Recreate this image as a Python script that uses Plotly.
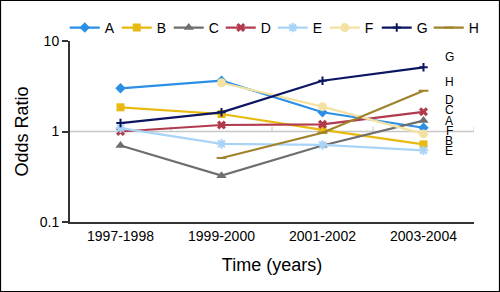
import plotly.graph_objects as go

periods = ["1997-1998", "1999-2000", "2001-2002", "2003-2004"]
series_names = ["A", "B", "C", "D", "E", "F", "G", "H"]
A = [3.0, 3.64, 1.63, 1.10]
B = [1.85, 1.56, 1.04, 0.72]
C = [0.70, 0.325, 0.70, 1.32]
D = [1.00, 1.18, 1.20, 1.65]
E = [1.09, 0.73, 0.71, 0.62]
F = [None, 3.46, 1.88, 0.94]
G = [1.24, 1.63, 3.64, 5.12]
H = [None, 0.51, 0.97, 2.82]
values = [A, B, C, D, E, F, G, H]

colors = ["#2B8FE6", "#E8B90E", "#6E6E6E", "#B23A4E", "#A9D3F7", "#F3E2A2", "#0B1561", "#A0822A"]
symbols = ["diamond", "square", "triangle-up", "x", "asterisk-open", "circle", "cross-thin-open", "line-ew-open"]
sizes = [8, 8, 9, 8, 8, 9, 6, 7]

# right-hand label column (order top->bottom) and their vertical positions (fraction of plot height)
label_order = ["G", "H", "D", "C", "A", "F", "B", "E"]
label_pos = [0.913, 0.772, 0.674, 0.619, 0.560, 0.504, 0.449, 0.393]

fig = go.Figure()
for name, v, c, s, sz in zip(series_names, values, colors, symbols, sizes):
    fig.add_trace(go.Scatter(
        x=periods, y=v, name=name, mode="lines+markers",
        line=dict(color=c, width=2.2),
        marker=dict(symbol=s, size=sz, color=c, line=dict(color=c, width=2 if "open" in s else 0)),
        connectgaps=False,
    ))

W, Hh = 500, 292
ml, mr, mt, mb = 70, 26, 41, 70
pw, ph = W - ml - mr, Hh - mt - mb

shapes = []
# reference line at odds ratio 1 (middle of log range 0.1..10)
shapes.append(dict(type="line", xref="x", yref="y domain", x0=-0.5, x1=3.5, y0=0.5, y1=0.5,
                   line=dict(color="#C8C8C8", width=1.5), layer="below"))
for xb in [0.5, 1.5, 2.5, 3.5]:
    shapes.append(dict(type="line", xref="x", yref="y domain", x0=xb, x1=xb, y0=0.5, y1=0.5 + 5 / ph,
                       line=dict(color="#C8C8C8", width=1), layer="below"))
# outer border
shapes.append(dict(type="rect", xref="paper", yref="paper",
                   x0=-ml / pw + 0.5 / pw, x1=(W - ml - 0.5) / pw,
                   y0=-mb / ph + 0.5 / ph, y1=(Hh - mb - 0.5) / ph,
                   line=dict(color="black", width=1.2), fillcolor="rgba(0,0,0,0)"))

annotations = []
for lab, yp in zip(label_order, label_pos):
    annotations.append(dict(text=lab, xref="paper", yref="y domain", x=(449 - ml) / pw, y=yp,
                            showarrow=False, font=dict(size=12, color="black"), xanchor="center", yanchor="middle"))

fig.update_layout(
    width=W, height=Hh,
    margin=dict(l=ml, r=mr, t=mt, b=mb, autoexpand=False),
    paper_bgcolor="white", plot_bgcolor="white",
    font=dict(family="Liberation Sans, Arial, sans-serif", color="black", size=13),
    shapes=shapes, annotations=annotations,
    legend=dict(orientation="h", x=-0.013, y=1.072, xanchor="left", yanchor="middle",
                entrywidth=7, entrywidthmode="pixels", font=dict(size=14),
                bgcolor="rgba(0,0,0,0)", itemclick=False, tracegroupgap=0, itemwidth=30),
    xaxis=dict(type="category", range=[-0.5, 3.5], showline=True, linecolor="#333", linewidth=2,
               ticks="", showgrid=False, tickfont=dict(size=14), automargin=False,
               title=dict(text="Time (years)", font=dict(size=18), standoff=16)),
    yaxis=dict(type="log", range=[-1, 1], showline=True, linecolor="#333", linewidth=2,
               tickvals=[0.1, 1, 10], ticktext=["0.1", "1", "10"], ticks="outside", ticklen=6,
               tickcolor="#333", tickwidth=1.5, showgrid=False, tickfont=dict(size=14), automargin=False,
               title=dict(text="Odds Ratio", font=dict(size=18), standoff=6)),
)

fig.write_html("out.html", config={"displayModeBar": False},
               post_script="document.body.style.margin='0';")
